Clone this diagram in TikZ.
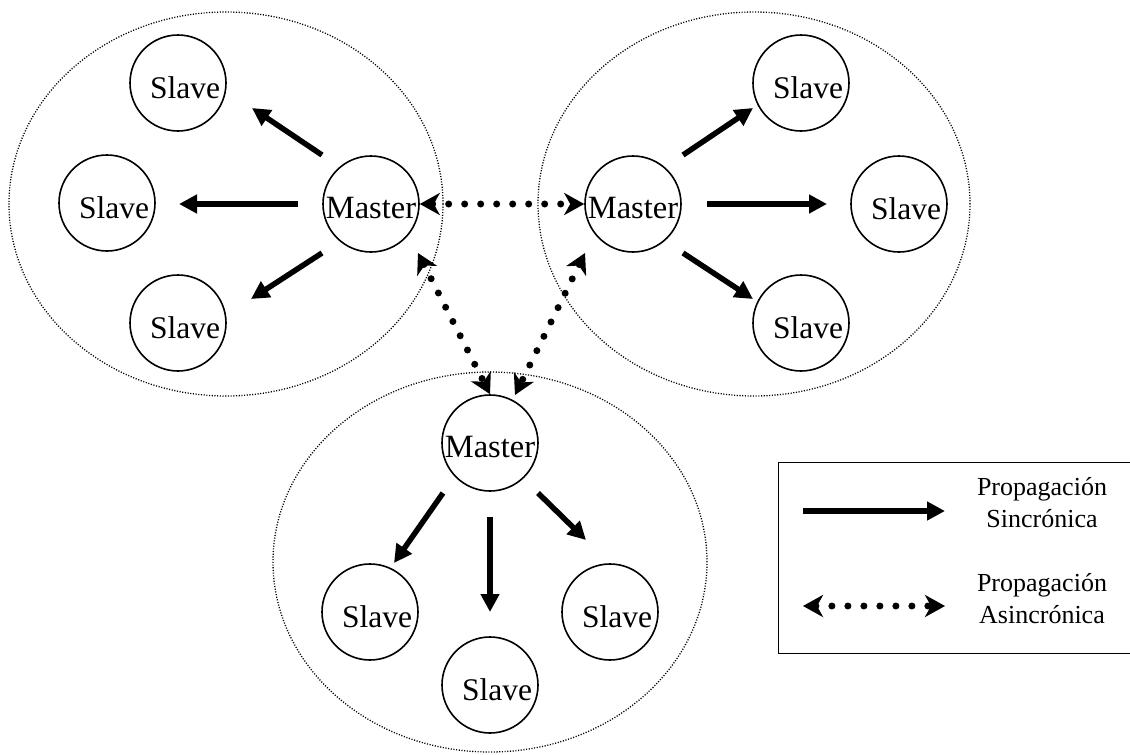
\documentclass[tikz,border=0pt]{standalone}
\usepackage{fontspec}
\setmainfont{Liberation Serif}
\usetikzlibrary{arrows.meta,shapes.geometric}
\begin{document}
\begin{tikzpicture}[x=1pt,y=-1pt,
  grp/.style={ellipse,draw,line width=1.3pt,dash pattern=on 1.1pt off 1.6pt,inner sep=0pt},
  nd/.style={circle,draw,line width=1.6pt,minimum size=96pt,inner sep=0pt,
    font=\fontsize{31.5}{36}\selectfont,text height=30pt,text depth=0pt},
  mst/.style={nd,text height=28pt,font=\fontsize{32.5}{36}\selectfont},
  sync/.style={line width=5.5pt,-{Triangle[length=18pt,width=18pt]}},
  async/.style={line width=7pt,line cap=round,dash pattern=on 0pt off 16pt,
    {Stealth[length=20pt,width=22pt,inset=6pt]}-{Stealth[length=20pt,width=22pt,inset=6pt]}},
  lgtext/.style={font=\fontsize{26}{31}\selectfont,inner sep=0pt,anchor=base}
]
\useasboundingbox (0,0) rectangle (1130,755);

% groups
\node[grp,minimum width=434pt,minimum height=384pt] (gL) at (226,204) {};
\node[grp,minimum width=432pt,minimum height=384pt] (gR) at (754,204) {};
\node[grp,minimum width=434pt,minimum height=380pt] (gB) at (490,562) {};

% left group
\node[mst] (mL) at (371,204) {Master};
\node[nd] (sL1) at (178,83) {\hspace{14pt}Slave};
\node[nd] (sL2) at (107,203) {\hspace{14pt}Slave};
\node[nd] (sL3) at (178,323) {\hspace{14pt}Slave};

% right group
\node[mst] (mR) at (633,204) {Master};
\node[nd] (sR1) at (801,83) {\hspace{14pt}Slave};
\node[nd] (sR2) at (899,204) {\hspace{14pt}Slave};
\node[nd] (sR3) at (801,323) {\hspace{14pt}Slave};

% bottom group
\node[mst] (mB) at (490,443) {Master};
\node[nd] (sB1) at (370,612) {\hspace{14pt}Slave};
\node[nd] (sB2) at (490,685) {\hspace{14pt}Slave};
\node[nd] (sB3) at (610,612) {\hspace{14pt}Slave};

% arrow end points
\coordinate (aL1s) at (322,155); \coordinate (aL1e) at (252,108);
\coordinate (aL2s) at (298,204); \coordinate (aL2e) at (179,204);
\coordinate (aL3s) at (322,253); \coordinate (aL3e) at (251,299);
\coordinate (aR1s) at (683,155); \coordinate (aR1e) at (753,108);
\coordinate (aR2s) at (707,204); \coordinate (aR2e) at (827,204);
\coordinate (aR3s) at (683,253); \coordinate (aR3e) at (753,299);
\coordinate (aB1s) at (443,493); \coordinate (aB1e) at (394,563);
\coordinate (aB2s) at (490,517); \coordinate (aB2e) at (490,612);
\coordinate (aB3s) at (538,493); \coordinate (aB3e) at (586,540);

\draw[sync] (aL1s) -- (aL1e);
\draw[sync] (aL2s) -- (aL2e);
\draw[sync] (aL3s) -- (aL3e);
\draw[sync] (aR1s) -- (aR1e);
\draw[sync] (aR2s) -- (aR2e);
\draw[sync] (aR3s) -- (aR3e);
\draw[sync] (aB1s) -- (aB1e);
\draw[sync] (aB2s) -- (aB2e);
\draw[sync] (aB3s) -- (aB3e);

% asynchronous links
\coordinate (dL) at (418,253);
\coordinate (dR) at (585,253);
\coordinate (dBR) at (515,395);
\draw[async] (mL) -- (mR);
\draw[async] (dL) -- (mB.north);
\draw[async] (dR) -- (dBR);

% legend
\node[draw,line width=1.3pt,inner sep=0pt,minimum width=360pt,minimum height=191pt,anchor=north west] (legend) at (778,462) {};
\coordinate (lg1s) at (803,511); \coordinate (lg1e) at (945,511);
\coordinate (lg2s) at (803,606); \coordinate (lg2e) at (945,606);
\draw[sync] (lg1s) -- (lg1e);
\draw[async] (lg2s) -- (lg2e);
\node[lgtext] (t1a) at (1042,495) {Propagación};
\node[lgtext] (t1b) at (1042,527) {Sincrónica};
\node[lgtext] (t2a) at (1042,591) {Propagación};
\node[lgtext] (t2b) at (1042,623) {Asincrónica};
\end{tikzpicture}
\end{document}
